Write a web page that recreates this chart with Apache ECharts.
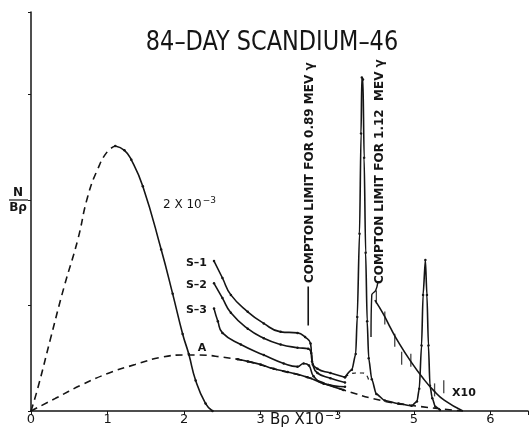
<!DOCTYPE html>
<html>
<head>
<meta charset="utf-8">
<script src="https://cdn.jsdelivr.net/npm/echarts@6/dist/echarts.min.js"></script>
<style>
  html, body { margin: 0; padding: 0; background: #fff; }
  #chart { width: 531px; height: 430px; }
</style>
</head>
<body>
<div id="chart"></div>
<script>
// x axis ticks (the 4 is left unlabeled in the original)
const xTickValues = [0, 1, 2, 3, 4, 5, 6];
const xTickLabels = ['0', '1', '2', '3', '', '5', '6'];

// beta spectrum x 2e-3 : dashed rise, measured fall
const betaRise = [[0, 0], [0.09, 0.22], [0.26, 0.70], [0.43, 1.17], [0.61, 1.62], [0.74, 2.03], [0.87, 2.29], [1.0, 2.46], [1.10, 2.51]];
const betaFall = [[1.10, 2.51], [1.22, 2.47], [1.31, 2.38], [1.46, 2.13], [1.70, 1.53], [1.85, 1.11], [1.98, 0.73], [2.06, 0.54], [2.15, 0.29], [2.28, 0.07], [2.37, 0]];

// curve A (dashed) and its measured middle part
const curveA = [[0, 0], [0.32, 0.12], [0.67, 0.25], [1.02, 0.36], [1.36, 0.44], [1.71, 0.51], [2.01, 0.53], [2.2, 0.53], [2.5, 0.51], [2.83, 0.47], [3.17, 0.40], [3.61, 0.32], [4.08, 0.20], [4.57, 0.10], [5.0, 0.05], [5.64, 0]];
const curveAPoints = [[2.70, 0.49], [2.83, 0.47], [3.0, 0.44], [3.17, 0.40], [3.35, 0.37], [3.61, 0.32], [3.82, 0.26], [4.08, 0.20]];

// S-1, S-2, S-3
const s1 = [[2.39, 1.42], [2.50, 1.26], [2.61, 1.10], [2.83, 0.94], [3.04, 0.83], [3.26, 0.75], [3.48, 0.74], [3.58, 0.70], [3.65, 0.64], [3.67, 0.47], [3.74, 0.40], [3.91, 0.36], [4.10, 0.32]];
const s2 = [[2.39, 1.21], [2.50, 1.07], [2.61, 0.93], [2.83, 0.78], [3.04, 0.69], [3.26, 0.63], [3.48, 0.60], [3.62, 0.59], [3.66, 0.55], [3.68, 0.44], [3.74, 0.36], [3.91, 0.31], [4.10, 0.27]];
const s3 = [[2.39, 0.97], [2.44, 0.85], [2.50, 0.74], [2.74, 0.63], [3.04, 0.53], [3.30, 0.45], [3.48, 0.42], [3.56, 0.45], [3.63, 0.43], [3.69, 0.33], [3.82, 0.26], [4.10, 0.23]];

// conversion peaks
const peaks = [[4.10, 0.32], [4.19, 0.39], [4.24, 0.54], [4.26, 0.89], [4.29, 1.68], [4.31, 2.63], [4.32, 3.16], [4.335, 3.14], [4.35, 2.40], [4.37, 1.50], [4.39, 0.85], [4.41, 0.50], [4.45, 0.30], [4.51, 0.16], [4.62, 0.10], [4.80, 0.07], [4.97, 0.05], [5.04, 0.09], [5.07, 0.21], [5.10, 0.62], [5.12, 1.10], [5.15, 1.43], [5.17, 1.10], [5.19, 0.62], [5.21, 0.24], [5.24, 0.12], [5.28, 0.04], [5.34, 0.01]];
const peakBase = [[4.10, 0.32], [4.17, 0.35], [4.24, 0.36], [4.33, 0.36], [4.38, 0.34], [4.41, 0.29]];

// x10 tail with error bars
const tenfold = [[4.49, 1.05], [4.60, 0.92], [4.70, 0.78], [4.80, 0.65], [4.95, 0.48], [5.12, 0.31], [5.25, 0.20], [5.40, 0.10], [5.64, 0]];
const tenfoldBars = [[4.51, 1.08], [4.62, 0.88], [4.75, 0.67], [4.84, 0.50], [4.96, 0.48], [5.27, 0.20], [5.39, 0.23]];

// compton limit markers
const compton089 = [[3.62, 0.81], [3.62, 1.18]];
const compton112 = [[4.44, 0.70], [4.45, 1.10], [4.50, 1.14], [4.53, 1.22]];

const ink = '#151515';

function curve(data, opts = {}) {
    return Object.assign({
        type: 'line',
        data: data,
        smooth: 0.5,
        showSymbol: !opts.dashed,
        symbol: 'circle',
        symbolSize: 2.5,
        itemStyle: { color: ink },
        lineStyle: { color: ink, width: 1.6, type: opts.dashed ? [7, 5] : 'solid' },
        silent: true,
        z: 3
    }, opts.extra || {});
}

const chart = echarts.init(document.getElementById('chart'));

chart.setOption({
    animation: false,
    backgroundColor: '#fff',
    grid: { left: 31, right: 0, top: 12, bottom: 19 },
    xAxis: {
        type: 'value',
        min: 0,
        max: 6.49,
        interval: 1,
        axisLine: { lineStyle: { color: ink, width: 1.5 } },
        axisTick: { length: 4, lineStyle: { color: ink } },
        splitLine: { show: false },
        axisLabel: {
            margin: 2,
            fontFamily: 'DejaVu Sans',
            fontSize: 13,
            color: ink,
            formatter: v => {
                const i = xTickValues.indexOf(v);
                return i >= 0 ? xTickLabels[i] : '';
            }
        }
    },
    yAxis: {
        type: 'value',
        min: 0,
        max: 3.78,
        interval: 1,
        axisLine: { show: true, lineStyle: { color: ink, width: 1.5 } },
        axisTick: { show: true, length: 3, lineStyle: { color: ink } },
        axisLabel: { show: false },
        splitLine: { show: false }
    },
    series: [
        curve(betaRise, { dashed: true }),
        curve(betaFall),
        curve(curveA, { dashed: true }),
        curve(curveAPoints),
        curve(s1),
        curve(s2),
        curve(s3),
        curve(peaks, { extra: { smooth: 0.25, smoothMonotone: 'x' } }),
        curve(peakBase, { dashed: true, extra: { lineStyle: { color: ink, width: 1.2, type: [4, 4] } } }),
        curve(tenfold, { extra: { showSymbol: false } }),
        {
            type: 'scatter',
            data: tenfoldBars,
            symbol: 'rect',
            symbolSize: [1.3, 13],
            itemStyle: { color: ink },
            silent: true
        },
        curve(compton089, { extra: { smooth: false, showSymbol: false, lineStyle: { color: ink, width: 1.6 } } }),
        curve(compton112, { extra: { smooth: 0.4, showSymbol: false, lineStyle: { color: ink, width: 1.4 } } })
    ],
    graphic: [
        {
            type: 'text', x: 272, y: 43, scaleX: 0.83,
            style: { text: '84–DAY SCANDIUM–46', font: '27px "DejaVu Sans"', fill: ink, align: 'center', verticalAlign: 'middle' }
        },
        {
            type: 'text', x: 310, y: 283, rotation: Math.PI / 2,
            style: { text: 'COMPTON LIMIT FOR 0.89 MEV γ', font: 'bold 12px "DejaVu Sans"', fill: ink, align: 'left', verticalAlign: 'middle' }
        },
        {
            type: 'text', x: 380, y: 284, rotation: Math.PI / 2,
            style: { text: 'COMPTON LIMIT FOR 1.12  MEV γ', font: 'bold 12px "DejaVu Sans"', fill: ink, align: 'left', verticalAlign: 'middle' }
        },
        {
            type: 'text', x: 18, y: 193,
            style: { text: 'N', font: 'bold 12px "DejaVu Sans"', fill: ink, align: 'center', verticalAlign: 'middle' }
        },
        {
            type: 'line', shape: { x1: 9, y1: 200, x2: 28, y2: 200 },
            style: { stroke: ink, lineWidth: 1.2 }
        },
        {
            type: 'text', x: 18, y: 208,
            style: { text: 'Bρ', font: 'bold 12px "DejaVu Sans"', fill: ink, align: 'center', verticalAlign: 'middle' }
        },
        {
            type: 'text', x: 270, y: 420,
            style: {
                text: '{a|Bρ X10}{b|−3}',
                align: 'left', verticalAlign: 'middle',
                rich: {
                    a: { font: '15px "DejaVu Sans"', fill: ink, color: ink },
                    b: { font: '11px "DejaVu Sans"', fill: ink, color: ink, verticalAlign: 'top', padding: [0, 0, 8, 1] }
                }
            }
        },
        {
            type: 'text', x: 163, y: 205,
            style: {
                text: '{a|2 X 10}{b|−3}',
                align: 'left', verticalAlign: 'middle',
                rich: {
                    a: { font: '12px "DejaVu Sans"', fill: ink, color: ink },
                    b: { font: '9px "DejaVu Sans"', fill: ink, color: ink, padding: [0, 0, 8, 1] }
                }
            }
        },
        {
            type: 'text', x: 202, y: 348,
            style: { text: 'A', font: 'bold 11px "DejaVu Sans"', fill: ink, align: 'center', verticalAlign: 'middle' }
        },
        {
            type: 'text', x: 207, y: 263,
            style: { text: 'S–1', font: 'bold 11px "DejaVu Sans"', fill: ink, align: 'right', verticalAlign: 'middle' }
        },
        {
            type: 'text', x: 207, y: 285,
            style: { text: 'S–2', font: 'bold 11px "DejaVu Sans"', fill: ink, align: 'right', verticalAlign: 'middle' }
        },
        {
            type: 'text', x: 207, y: 310,
            style: { text: 'S–3', font: 'bold 11px "DejaVu Sans"', fill: ink, align: 'right', verticalAlign: 'middle' }
        },
        {
            type: 'text', x: 452, y: 393,
            style: { text: 'X10', font: 'bold 11px "DejaVu Sans"', fill: ink, align: 'left', verticalAlign: 'middle' }
        }
    ]
});

window.addEventListener('resize', () => chart.resize());
</script>
</body>
</html>
